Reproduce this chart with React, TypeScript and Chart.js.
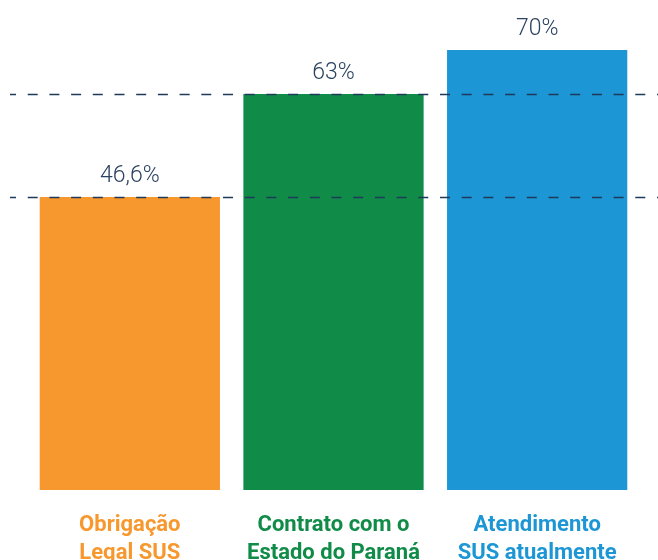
import React, { useEffect, useRef } from "react";
import { Chart, registerables } from "chart.js";

Chart.register(...registerables);

const categories: string[][] = [
  ["Obrigação", "Legal SUS"],
  ["Contrato com o", "Estado do Paraná"],
  ["Atendimento", "SUS atualmente"],
];
const values: number[] = [46.6, 63, 70];
const valueLabels: string[] = ["46,6%", "63%", "70%"];
const barColors: string[] = ["#F7982E", "#108B48", "#1C96D4"];
const referenceLines: number[] = [63, 46.6];

export default function App() {
  const ref = useRef<HTMLCanvasElement | null>(null);

  useEffect(() => {
    const canvas = ref.current;
    if (!canvas) return;

    const overlay = {
      id: "overlay",
      afterDatasetsDraw(chart: any) {
        const ctx = chart.ctx;
        const y = chart.scales.y;
        ctx.save();
        ctx.strokeStyle = "#1E3A5A";
        ctx.lineWidth = 1.5;
        ctx.setLineDash([10, 11.7]);
        ctx.lineDashOffset = 4;
        referenceLines.forEach((v) => {
          const py = Math.round(y.getPixelForValue(v)) + 0.5;
          ctx.beginPath();
          ctx.moveTo(10, py);
          ctx.lineTo(chart.width, py);
          ctx.stroke();
        });
        ctx.setLineDash([]);
        const meta = chart.getDatasetMeta(0);
        ctx.fillStyle = "#2B4260";
        ctx.font = "300 23px Roboto";
        ctx.textAlign = "center";
        ctx.textBaseline = "alphabetic";
        meta.data.forEach((bar: any, i: number) => {
          ctx.fillText(valueLabels[i], bar.x, bar.y - 15);
        });
        ctx.restore();
      },
    };

    const chart = new Chart(canvas, {
      type: "bar",
      data: {
        labels: categories,
        datasets: [
          {
            data: values,
            backgroundColor: barColors,
            borderWidth: 0,
            categoryPercentage: 1,
            barPercentage: 0.885,
          },
        ],
      },
      options: {
        animation: false,
        responsive: false,
        maintainAspectRatio: false,
        layout: { padding: { top: 50, left: 28, right: 19, bottom: 0 } },
        plugins: { legend: { display: false }, tooltip: { enabled: false } },
        scales: {
          y: { display: false, min: 0, max: 70 },
          x: {
            grid: { display: false },
            border: { display: false },
            afterFit: (scale: any) => {
              scale.height = 70;
            },
            ticks: {
              padding: 14,
              maxRotation: 0,
              autoSkip: false,
              color: (c: any) => barColors[c.index],
              font: { family: "Roboto", weight: "bold", size: 22, lineHeight: 1.25 },
            },
          },
        },
      },
      plugins: [overlay],
    });
    return () => chart.destroy();
  }, []);

  return (
    <div style={{ position: "fixed", left: 0, top: 0, width: 658, height: 560, background: "#fff" }}>
      <canvas ref={ref} width={658} height={560} style={{ display: "block" }} />
    </div>
  );
}
